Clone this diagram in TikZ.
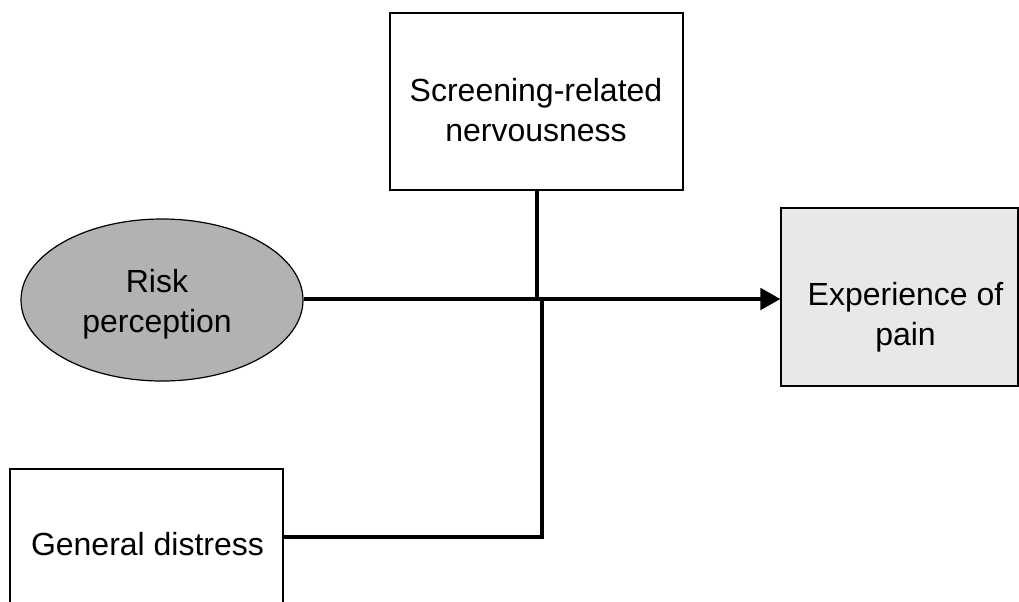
\documentclass[tikz,border=0pt]{standalone}
\usepackage{fontspec}
\setmainfont{Liberation Sans}
\usetikzlibrary{shapes.geometric,arrows.meta}
\begin{document}
\begin{tikzpicture}[x=0.75pt,y=-0.75pt,
  every node/.style={font=\fontsize{24}{30}\selectfont, align=center, inner sep=0pt},
  varbox/.style={draw=black, line width=0.9pt, fill=white, rectangle},
  outcome/.style={varbox, fill=black!9},
  latent/.style={draw=black, line width=0.9pt, fill=black!30, ellipse},
  linkline/.style={draw=black, line width=2.3pt},
  mainlink/.style={draw=black, line width=3pt, -{Triangle[length=15pt,width=16pt]}}]
\useasboundingbox (0,0) rectangle (1019,601);
\clip (0,0) rectangle (1019,601);

% variables
\node[varbox, minimum width=219.75pt, minimum height=132.75pt] (scr) at (536.5,101.5) {};
\node (scrtxt) at (536,110) {Screening-related\\nervousness};

\node[latent, minimum width=211.5pt, minimum height=121.5pt] (risk) at (162,300) {};
\node (risktxt) at (157,304) {Risk\\perception};

\node[outcome, minimum width=177.75pt, minimum height=133.5pt] (pain) at (899.5,297) {};
\node (paintxt) at (905.5,317) {Experience of\\pain};

\node[varbox, minimum width=204.75pt, minimum height=105pt] (dist) at (146.5,539) {};
\node (disttxt) at (147.5,544) {General distress};

% junctions on the main path
\coordinate (j1) at (537,299);
\coordinate (j2) at (542,301);

% connectors
\draw[linkline] (risk.east |- j1) -- (j1);
\draw[linkline] (scr.south -| j1) -- ([yshift=-1.5pt]j1);
\draw[linkline] (dist.east |- 0,537) -- (j2 |- 0,537) -- (j2);
\draw[mainlink] ([xshift=-1pt]j1) -- (pain.west |- j1);
\end{tikzpicture}
\end{document}
